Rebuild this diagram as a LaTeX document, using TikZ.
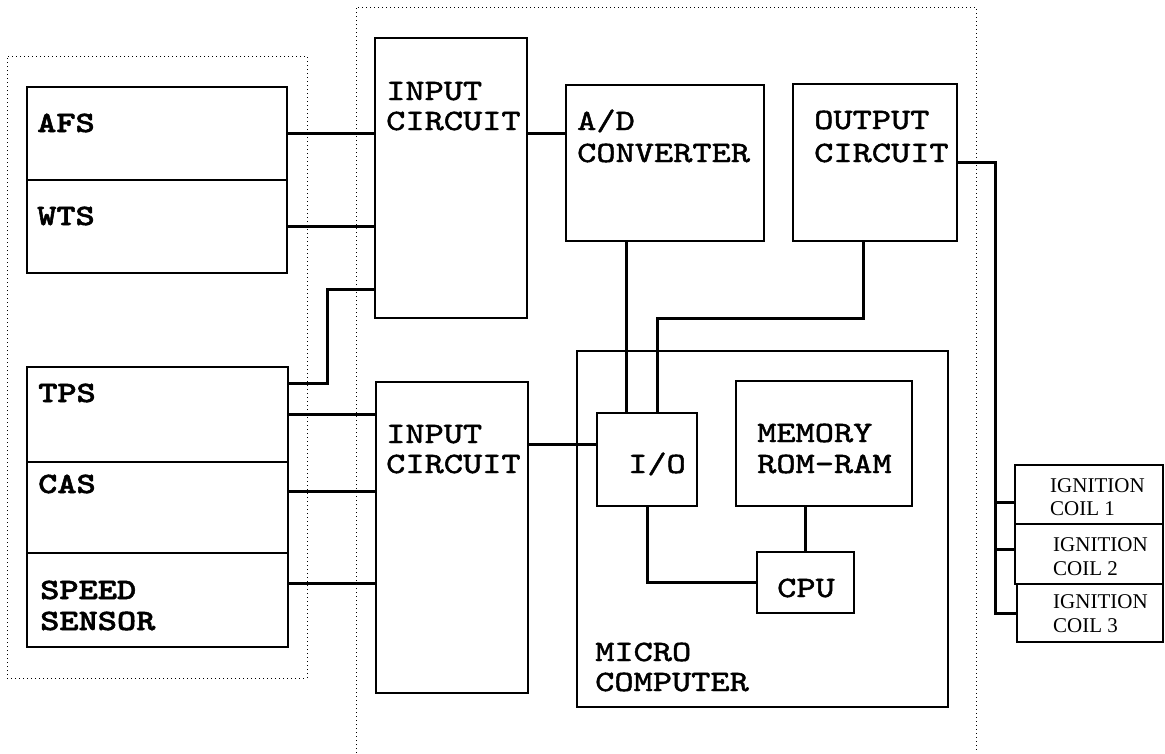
\documentclass[tikz,border=0pt]{standalone}
\usepackage{fontspec}
\newfontfamily\monoreg[FakeStretch=1.24, FakeBold=1.6]{lmmono10-regular.otf}
\newfontfamily\monobold[FakeStretch=1.24, FakeBold=1.8]{lmmonolt10-bold.otf}
\newfontfamily\seriffam{Liberation Serif}
\newcommand\lblfont{\fontsize{29.5}{29.5}\selectfont\monoreg}
\newcommand\senfont{\fontsize{29.5}{29.5}\selectfont\monobold}
\newcommand\coilfont{\fontsize{21}{21}\selectfont\seriffam}
\begin{document}
\begin{tikzpicture}[x=1pt,y=-1pt,
  box/.style={draw, line width=2pt, inner sep=0pt, outer sep=0pt, anchor=north west},
  coilbox/.style={box, line width=2.6pt},
  frame/.style={draw, line width=1pt, dash pattern=on 1pt off 3pt, inner sep=0pt, outer sep=0pt, anchor=north west},
  dots/.style={line width=1pt, dash pattern=on 1pt off 3pt},
  lbl/.style={anchor=base west, inner sep=0pt, font=\lblfont},
  senlbl/.style={anchor=base west, inner sep=0pt, font=\senfont},
  coiltxt/.style={anchor=base west, inner sep=0pt, font=\coilfont},
  wire/.style={line width=3pt}]
\useasboundingbox (0,0) rectangle (1165,753);
\fill[white] (0,0) rectangle (1165,753);

% dotted frames
\node[frame, minimum width=300pt, minimum height=622pt] (sensors) at (7,56) {};
\draw[dots] (356,753) -- (356,7) -- (976,7) -- (976,753);

% sensor boxes
\node[box, minimum width=260pt, minimum height=93pt] (afs) at (27,87) {};
\node[box, minimum width=260pt, minimum height=93pt] (wts) at (27,180) {};
\node[box, minimum width=261pt, minimum height=95pt] (tps) at (27,367) {};
\node[box, minimum width=261pt, minimum height=91pt] (cas) at (27,462) {};
\node[box, minimum width=261pt, minimum height=94pt] (spd) at (27,553) {};

% circuit boxes
\node[box, minimum width=152pt, minimum height=280pt] (ic1) at (375,38) {};
\node[box, minimum width=152pt, minimum height=311pt] (ic2) at (376,382) {};
\node[box, minimum width=198pt, minimum height=156pt] (ad) at (566,85) {};
\node[box, minimum width=164pt, minimum height=157pt] (out) at (793,84) {};
\node[box, minimum width=371pt, minimum height=356pt] (mc) at (577,351) {};
\node[box, minimum width=100pt, minimum height=93pt] (io) at (597,413) {};
\node[box, minimum width=176pt, minimum height=125pt] (mem) at (736,381) {};
\node[box, minimum width=97pt, minimum height=61pt] (cpu) at (757,552) {};

% ignition coils
\node[coilbox, minimum width=148pt, minimum height=59pt] (coil1) at (1015,465) {};
\node[coilbox, minimum width=148pt, minimum height=60pt] (coil2) at (1015,524) {};
\node[coilbox, minimum width=146pt, minimum height=58pt] (coil3) at (1017,584) {};

% labels
\node[senlbl] (tafs) at (37,132) {AFS};
\node[senlbl] (twts) at (37,225) {WTS};
\node[senlbl] (ttps) at (38,402) {TPS};
\node[senlbl] (tcas) at (38,493) {CAS};
\node[senlbl] (tspda) at (40,599) {SPEED};
\node[senlbl] (tspdb) at (40,630) {SENSOR};
\node[lbl] (tic1a) at (386,100) {INPUT};
\node[lbl] (tic1b) at (386,130) {CIRCUIT};
\node[lbl] (tic2a) at (386,443) {INPUT};
\node[lbl] (tic2b) at (386,473) {CIRCUIT};
\node[lbl] (tada) at (577,130) {A/D};
\node[lbl] (tadb) at (577,162) {CONVERTER};
\node[lbl] (touta) at (814,129) {OUTPUT};
\node[lbl] (toutb) at (814,162) {CIRCUIT};
\node[lbl] (tio) at (628,473) {I/O};
\node[lbl] (tmema) at (757,442) {MEMORY};
\node[lbl] (tmemb) at (757,473) {ROM-RAM};
\node[lbl] (tcpu) at (777,597) {CPU};
\node[lbl] (tmca) at (595,661) {MICRO};
\node[lbl] (tmcb) at (595,691) {COMPUTER};
\node[coiltxt] (tc1a) at (1050,492) {IGNITION};
\node[coiltxt] (tc1b) at (1050,515) {COIL 1};
\node[coiltxt] (tc2a) at (1053,551) {IGNITION};
\node[coiltxt] (tc2b) at (1053,575) {COIL 2};
\node[coiltxt] (tc3a) at (1053,608) {IGNITION};
\node[coiltxt] (tc3b) at (1053,632) {COIL 3};

% connectors
\draw[wire] (afs.east) -- (afs.east -| ic1.west);
\draw[wire] (wts.east) -- (wts.east -| ic1.west);
\draw[wire] ([yshift=-16pt]tps.north east) -- ++(39,0) |- ([yshift=29pt]ic1.south west);
\draw[wire] (tps.east) -- (tps.east -| ic2.west);
\coordinate (c5) at ([yshift=-29pt]cas.north east);
\draw[wire] (c5) -- (c5 -| ic2.west);
\coordinate (c6) at ([yshift=-30pt]spd.north east);
\draw[wire] (c6) -- (c6 -| ic2.west);
\coordinate (c7) at ([yshift=-31pt]io.north west);
\draw[wire] (c7 -| ic2.east) -- (c7);
\coordinate (c8) at ([yshift=-48pt]ad.north west);
\draw[wire] (c8 -| ic1.east) -- (c8);
\coordinate (c9) at ([xshift=29pt]io.north west);
\draw[wire] (c9 |- ad.south) -- (c9);
\coordinate (c10) at ([xshift=-94pt]out.south east);
\draw[wire] (c10) -- ++(0,77) -| ([xshift=60pt]io.north west);
\draw[wire] ([xshift=50pt]io.south west) |- (cpu.west);
\draw[wire] (cpu.north |- mem.south) -- (cpu.north);
\draw[wire] (out.east) -- ++(38,0) coordinate (tk) |- (coil3.west);
\coordinate (c13) at ([yshift=-8pt]coil1.west);
\draw[wire] (c13 -| tk) -- (c13);
\coordinate (c14) at ([yshift=5pt]coil2.west);
\draw[wire] (c14 -| tk) -- (c14);
\end{tikzpicture}
\end{document}
